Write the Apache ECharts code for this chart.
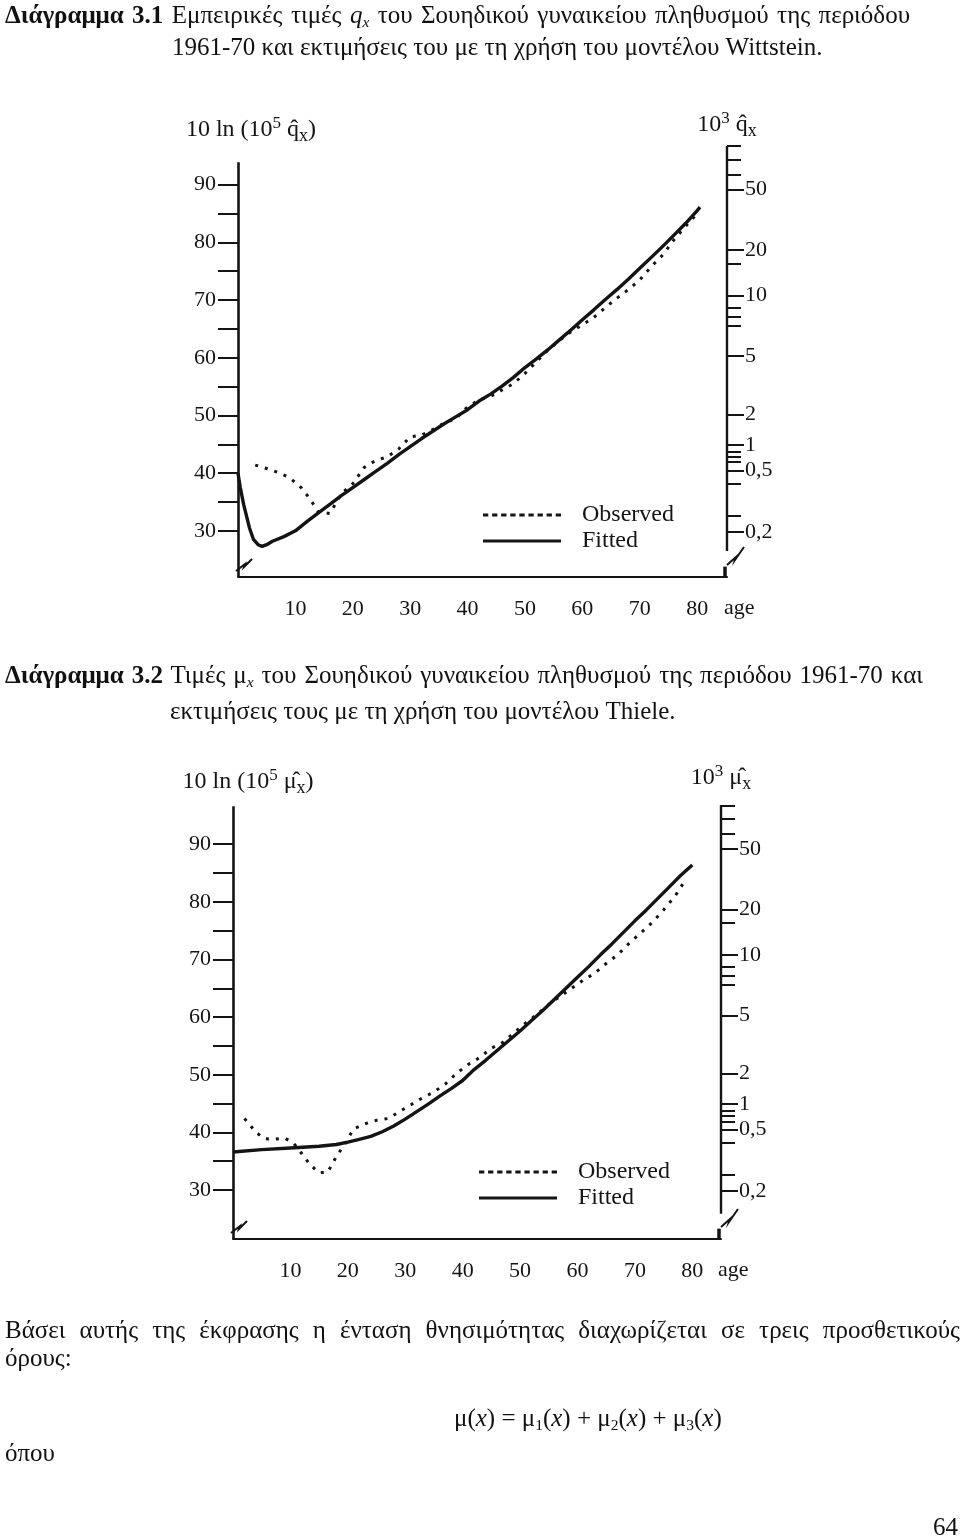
<!DOCTYPE html>
<html>
<head>
<meta charset="utf-8">
<script src="https://cdn.jsdelivr.net/npm/echarts@6/dist/echarts.min.js"></script>
<style>
  html, body { margin:0; padding:0; background:#fff; }
  body { width:960px; height:1539px; position:relative; overflow:hidden;
         font-family:'Liberation Serif','DejaVu Serif',serif; color:#111; }
  #chart { position:absolute; left:0; top:0; width:960px; height:1539px; }
  .t { position:absolute; white-space:nowrap; font-size:25px; line-height:26px; z-index:2; }
  sub { font-size:0.62em; vertical-align:-0.25em; line-height:0; }
  .j { text-align:justify; text-align-last:justify; white-space:normal; }
</style>
</head>
<body>
<div id="chart"></div>

<div class="t j" style="left:5px;top:2px;width:905px;"><b>Διάγραμμα 3.1</b> Εμπειρικές τιμές <i>q<sub>x</sub></i> του Σουηδικού γυναικείου πληθυσμού της περιόδου</div>
<div class="t" style="left:172px;top:34px;">1961-70 και εκτιμήσεις του με τη χρήση του μοντέλου Wittstein.</div>

<div class="t j" style="left:5px;top:662px;width:918px;"><b>Διάγραμμα 3.2</b> Τιμές μ<sub><i>x</i></sub> του Σουηδικού γυναικείου πληθυσμού της περιόδου 1961-70 και</div>
<div class="t" style="left:170px;top:698px;">εκτιμήσεις τους με τη χρήση του μοντέλου Thiele.</div>

<div class="t j" style="left:5px;top:1317px;width:955px;">Βάσει αυτής της έκφρασης η ένταση θνησιμότητας διαχωρίζεται σε τρεις προσθετικούς</div>
<div class="t" style="left:5px;top:1345px;">όρους:</div>
<div class="t" style="left:454px;top:1405px;">μ(<i>x</i>) = μ<sub>1</sub>(<i>x</i>) + μ<sub>2</sub>(<i>x</i>) + μ<sub>3</sub>(<i>x</i>)</div>
<div class="t" style="left:5px;top:1440px;">όπου</div>
<div class="t" style="left:933px;top:1514px;">64</div>

<script>
// ---------------- data ----------------
// Chart 3.1 (Wittstein): observed & fitted 10 ln(10^5 q_x) by age
const obs1Age = [3, 5, 7, 9, 11, 12.5, 14, 16, 18, 20, 22, 24, 26, 28, 30, 32, 34, 36, 38, 40, 42, 44, 46, 48, 50, 52, 54, 56, 58, 60, 62, 64, 66, 68, 70, 72, 74, 76, 78, 80];
const obs1Val = [41.4, 40.8, 40.1, 39.2, 37.5, 35.6, 33.3, 33.0, 36.4, 38.2, 41.0, 42.2, 42.8, 44.2, 46.3, 46.6, 47.6, 48.7, 49.5, 51.5, 52.7, 53.3, 54.4, 55.5, 57.3, 59.3, 61.3, 63.0, 64.5, 65.7, 67.0, 68.7, 70.3, 71.8, 73.5, 75.8, 77.8, 80.5, 82.8, 85.0];
const fit1Age = [0, 0.4, 1, 2, 2.7, 3.5, 4.2, 5, 6, 8, 10, 12, 14, 16, 18, 20, 22, 24, 26, 28, 30, 32, 34, 36, 38, 40, 42, 44, 46, 48, 50, 52, 54, 56, 58, 60, 62, 64, 66, 68, 70, 72, 74, 76, 78, 80, 80.5];
const fit1Val = [40.0, 37.5, 34.5, 30.5, 28.5, 27.6, 27.3, 27.6, 28.2, 29.0, 30.0, 31.6, 33.1, 34.6, 36.1, 37.5, 38.9, 40.3, 41.7, 43.2, 44.6, 46.0, 47.3, 48.6, 49.8, 51.0, 52.5, 53.7, 55.1, 56.6, 58.3, 59.8, 61.4, 63.1, 64.8, 66.6, 68.3, 70.1, 71.8, 73.6, 75.5, 77.4, 79.3, 81.3, 83.3, 85.5, 86.1];

// Chart 3.2 (Thiele): observed & fitted 10 ln(10^5 mu_x) by age
const obs2Age = [2, 4, 5.5, 7, 9, 10.5, 12, 13.5, 15, 16.5, 18, 19.5, 21, 23, 25, 27, 29, 31, 33, 35, 37, 39, 41, 43, 45, 47, 49, 51, 53, 55, 57, 59, 61, 63, 65, 67, 69, 71, 73, 75, 77, 79];
const obs2Val = [42.4, 40.0, 38.9, 38.8, 39.0, 38.2, 36.3, 34.3, 33.0, 33.1, 35.8, 38.0, 40.6, 41.5, 42.1, 42.4, 43.6, 44.8, 46.0, 47.0, 48.4, 50.3, 51.8, 53.0, 54.6, 55.6, 57.3, 59.0, 60.5, 62.2, 63.6, 65.0, 66.4, 67.6, 69.3, 70.8, 72.8, 74.6, 76.4, 78.6, 81.0, 84.1];
const fit2Age = [0, 5, 10, 15, 18, 20, 22, 24, 26, 28, 30, 32, 34, 36, 38, 40, 42, 44, 46, 48, 50, 52, 54, 56, 58, 60, 62, 64, 66, 68, 70, 72, 74, 76, 78, 80];
const fit2Val = [36.6, 37.0, 37.3, 37.6, 37.9, 38.3, 38.8, 39.3, 40.1, 41.1, 42.3, 43.6, 44.9, 46.3, 47.6, 49.0, 50.9, 52.5, 54.2, 55.9, 57.6, 59.4, 61.2, 63.1, 65.0, 66.9, 68.8, 70.8, 72.7, 74.7, 76.7, 78.6, 80.6, 82.6, 84.6, 86.4];

// Axis ticks / labels
const leftTicks = [30, 35, 40, 45, 50, 55, 60, 65, 70, 75, 80, 85, 90];
const leftLabels = [30, 40, 50, 60, 70, 80, 90];
const xLabels = [10, 20, 30, 40, 50, 60, 70, 80];
// right (10^3 q_x) scale: tick positions measured in left-axis units
const rightMinorTicks = [96.7, 94.4, 91.8, 76.3, 68.7, 67.1, 65.6, 43.7, 42.8, 41.9, 38.2, 32.7];
const rightLabelPos = [89.2, 78.7, 70.8, 60.3, 50.2, 44.9, 40.5, 29.8];
const rightLabelText = ['50', '20', '10', '5', '2', '1', '0,5', '0,2'];
const seriesNames = ['Observed', 'Fitted'];

// ---------------- layout (not data) ----------------
const AX = [
  { grid:{left:238, top:146, width:489, height:431}, xMax:85.2, yMin:22, yMax:96.7, leftTop:93.9, rBreak:26.5,
    leftName:['10 ln (10','5',' q̂','x',')'], rightName:['10','3',' q̂','x'], lgap:1, rgap:6, lshift:26,
    legend:{left:483, top:503} },
  { grid:{left:233, top:805, width:488, height:434}, xMax:85.0, yMin:21.5, yMax:96.8, leftTop:96.6, rBreak:25.9,
    leftName:['10 ln (10','5',' μ̂','x',')'], rightName:['10','3',' μ̂','x'], lgap:8, rgap:12, lshift:30,
    legend:{left:479, top:1160} }
];
const FONT = "'Liberation Serif', 'DejaVu Serif', serif";
const INK = '#141414';

function zip(a, b) { return a.map((v, i) => [v, b[i]]); }
const richName = {
  a:{fontFamily:FONT, fontSize:24, color:INK, lineHeight:30, verticalAlign:'middle'},
  sup:{fontFamily:FONT, fontSize:17, color:INK, lineHeight:14, verticalAlign:'top'},
  sub:{fontFamily:FONT, fontSize:18, color:INK, lineHeight:14, verticalAlign:'bottom'}
};
function nameStr(p) {
  const tags = ['a','sup','a','sub','a'];
  return p.map((s, i) => '{' + tags[i] + '|' + s + '}').join('');
}
function rightLabel(v) {
  for (let i = 0; i < rightLabelPos.length; i++) if (Math.abs(rightLabelPos[i] - v) < 1e-6) return rightLabelText[i];
  return '';
}
// legend icons: dotted bar and solid bar
let dotted = 'path://';
for (let i = 0; i < 9; i++) dotted += 'M' + (i * 8.6).toFixed(1) + ',0h5v3h-5z';
const solid = 'path://M0,0h74v3h-74z';

const grids = [], xAxes = [], yAxes = [], series = [], legends = [];
AX.forEach((c, k) => {
  grids.push(Object.assign({containLabel:false}, c.grid));
  xAxes.push({
    type:'value', gridIndex:k, min:0, max:c.xMax, interval:10,
    axisLine:{show:true, onZero:false, lineStyle:{color:INK, width:2}},
    axisTick:{show:false}, splitLine:{show:false},
    axisLabel:{customValues:xLabels, margin:21, fontFamily:FONT, fontSize:22, color:INK}
  });
  // left: 10 ln scale
  yAxes.push({
    type:'value', gridIndex:k, position:'left', min:c.yMin, max:c.yMax,
    axisLine:{show:false}, splitLine:{show:false},
    axisTick:{show:true, customValues:leftTicks, length:20, inside:false, lineStyle:{color:INK, width:2}},
    axisLabel:{customValues:leftLabels, margin:22, fontFamily:FONT, fontSize:22, color:INK},
    name:nameStr(c.leftName), nameLocation:'end', nameGap:c.lgap,
    nameTextStyle:{rich:richName, align:'center', padding:[0,0,0,c.lshift]}
  });
  // right: labelled 10^3 q_x ticks
  yAxes.push({
    type:'value', gridIndex:k, position:'right', offset:0, min:c.yMin, max:c.yMax,
    axisLine:{show:false}, splitLine:{show:false},
    axisTick:{show:true, customValues:rightLabelPos, length:17, inside:false, lineStyle:{color:INK, width:2}},
    axisLabel:{customValues:rightLabelPos, margin:18, fontFamily:FONT, fontSize:22, color:INK, formatter:rightLabel},
    name:nameStr(c.rightName), nameLocation:'end', nameGap:c.rgap,
    nameTextStyle:{rich:richName, align:'center'}
  });
  // right: unlabelled minor ticks
  yAxes.push({
    type:'value', gridIndex:k, position:'right', offset:0, min:c.yMin, max:c.yMax,
    axisLine:{show:false}, splitLine:{show:false}, axisLabel:{show:false},
    axisTick:{show:true, customValues:rightMinorTicks, length:14, inside:false, lineStyle:{color:INK, width:2}}
  });
  const obsAge = k === 0 ? obs1Age : obs2Age, obsVal = k === 0 ? obs1Val : obs2Val;
  const fitAge = k === 0 ? fit1Age : fit2Age, fitVal = k === 0 ? fit1Val : fit2Val;
  const deco = (a, b, w) => [{coord:a, lineStyle:{width:w, type:'solid', color:INK}}, {coord:b}];
  series.push({
    name:seriesNames[0], type:'line', xAxisIndex:k, yAxisIndex:3*k, data:zip(obsAge, obsVal),
    symbol:'none', lineStyle:{color:INK, width:3, type:[3, 7], cap:'butt'}, itemStyle:{color:INK}, z:3
  });
  series.push({
    name:seriesNames[1], type:'line', xAxisIndex:k, yAxisIndex:3*k, data:zip(fitAge, fitVal),
    symbol:'none', lineStyle:{color:INK, width:3.4, type:'solid'}, itemStyle:{color:INK}, z:4,
    markLine:{
      silent:true, symbol:['none','none'], label:{show:false}, animation:false,
      data:[
        deco([0, c.yMin], [0, c.leftTop], 2.6),
        deco([c.xMax, c.rBreak], [c.xMax, c.yMax], 2.4),
        deco([c.xMax - 0.35, c.yMin], [c.xMax - 0.35, c.yMin + 1.8], 3.5)
      ]
    }
  });
  legends.push({
    orient:'vertical', left:c.legend.left, top:c.legend.top, itemWidth:78, itemHeight:4, itemGap:2,
    padding:0, selectedMode:false,
    textStyle:{fontFamily:FONT, fontSize:24, lineHeight:24, color:INK, padding:[0,0,0,16]},
    data:[
      {name:seriesNames[0], icon:dotted, itemStyle:{color:INK}},
      {name:seriesNames[1], icon:solid, itemStyle:{color:INK}}
    ]
  });
});

const chart = echarts.init(document.getElementById('chart'), null, {renderer:'canvas'});
chart.setOption({
  animation:false, backgroundColor:'#ffffff',
  grid:grids, xAxis:xAxes, yAxis:yAxes, series:series, legend:legends
});

// axis decorations outside the plotting area: "age" name and axis-break marks
const graphics = [];
AX.forEach((c, k) => {
  const p0 = chart.convertToPixel({xAxisIndex:k, yAxisIndex:3*k}, [0, c.yMin]);
  const p1 = chart.convertToPixel({xAxisIndex:k, yAxisIndex:3*k}, [c.xMax, c.yMin]);
  const X0 = p0[0], Y0 = p0[1], XR = p1[0];
  graphics.push({type:'text', x:XR - 3, y:Y0 + 31,
    style:{text:'age', fontFamily:FONT, fontSize:22, fill:INK, verticalAlign:'middle', align:'left'}});
  graphics.push({type:'polyline', shape:{points:[[X0 - 2, Y0 - 6], [X0 + 7, Y0 - 13], [X0 + 6, Y0 - 10], [X0 + 14, Y0 - 18]]},
    style:{stroke:INK, lineWidth:2, fill:null}});
  graphics.push({type:'polyline', shape:{points:[[XR, Y0 - 12], [XR + 9, Y0 - 20], [XR + 8, Y0 - 17], [XR + 17, Y0 - 30]]},
    style:{stroke:INK, lineWidth:2, fill:null}});
});
chart.setOption({graphic:graphics});
</script>
</body>
</html>
